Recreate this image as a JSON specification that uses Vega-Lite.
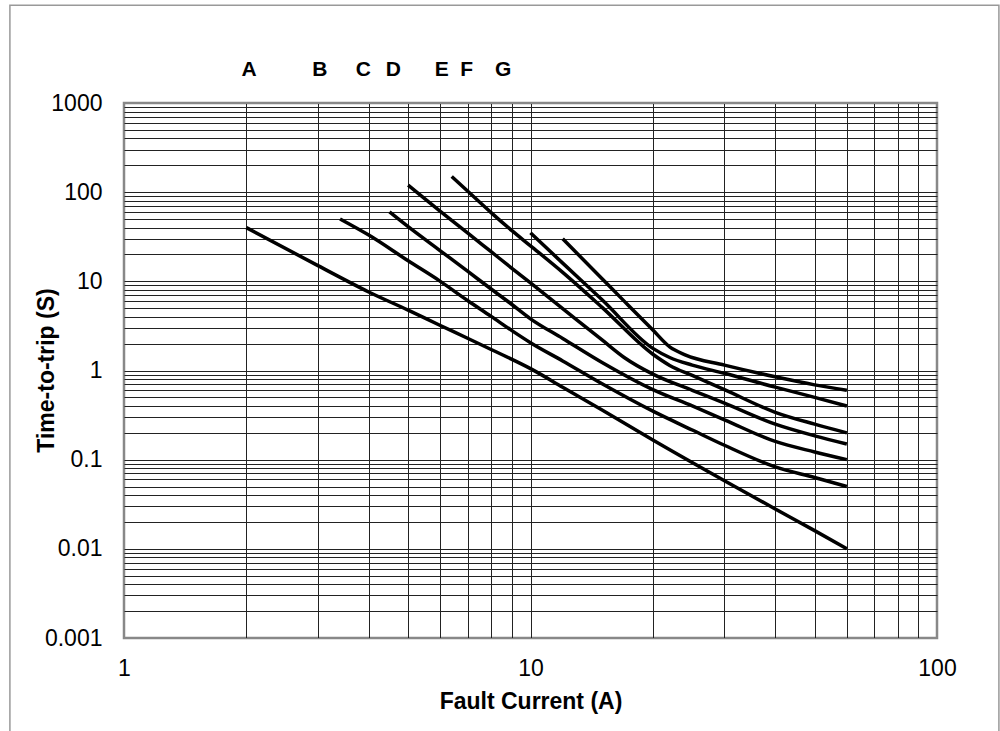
{
  "$schema": "https://vega.github.io/schema/vega-lite/v6.json",
  "width": 813,
  "height": 535,
  "autosize": {"type": "none"},
  "padding": {"left": 124, "top": 103, "right": 63, "bottom": 93},
  "background": "white",
  "config": {
    "view": {"stroke": "#888", "strokeWidth": 2.5},
    "font": "Liberation Sans"
  },
  "datasets": {
    "curves": [
      {"curve": "A", "current": 2, "time": 40},
      {"curve": "A", "current": 3, "time": 15},
      {"curve": "A", "current": 4, "time": 7.6},
      {"curve": "A", "current": 5, "time": 4.75},
      {"curve": "A", "current": 6, "time": 3.2},
      {"curve": "A", "current": 7, "time": 2.3},
      {"curve": "A", "current": 8, "time": 1.72},
      {"curve": "A", "current": 10, "time": 1.05},
      {"curve": "A", "current": 12, "time": 0.65},
      {"curve": "A", "current": 15, "time": 0.36},
      {"curve": "A", "current": 20, "time": 0.166},
      {"curve": "A", "current": 30, "time": 0.058},
      {"curve": "A", "current": 40, "time": 0.028},
      {"curve": "A", "current": 50, "time": 0.016},
      {"curve": "A", "current": 60, "time": 0.01},

      {"curve": "B", "current": 3.4, "time": 50},
      {"curve": "B", "current": 4, "time": 33},
      {"curve": "B", "current": 5, "time": 17},
      {"curve": "B", "current": 6, "time": 10},
      {"curve": "B", "current": 7, "time": 6.1},
      {"curve": "B", "current": 8, "time": 4.05},
      {"curve": "B", "current": 9, "time": 2.8},
      {"curve": "B", "current": 10, "time": 2.05},
      {"curve": "B", "current": 12, "time": 1.28},
      {"curve": "B", "current": 15, "time": 0.71},
      {"curve": "B", "current": 20, "time": 0.35},
      {"curve": "B", "current": 25, "time": 0.215},
      {"curve": "B", "current": 30, "time": 0.145},
      {"curve": "B", "current": 40, "time": 0.083},
      {"curve": "B", "current": 50, "time": 0.063},
      {"curve": "B", "current": 60, "time": 0.05},

      {"curve": "C", "current": 4.5, "time": 60},
      {"curve": "C", "current": 5, "time": 41},
      {"curve": "C", "current": 6, "time": 22},
      {"curve": "C", "current": 7, "time": 13},
      {"curve": "C", "current": 8, "time": 8.2},
      {"curve": "C", "current": 9, "time": 5.5},
      {"curve": "C", "current": 10, "time": 3.8},
      {"curve": "C", "current": 12, "time": 2.29},
      {"curve": "C", "current": 15, "time": 1.23},
      {"curve": "C", "current": 20, "time": 0.61},
      {"curve": "C", "current": 25, "time": 0.4},
      {"curve": "C", "current": 30, "time": 0.28},
      {"curve": "C", "current": 40, "time": 0.16},
      {"curve": "C", "current": 50, "time": 0.122},
      {"curve": "C", "current": 60, "time": 0.1},

      {"curve": "D", "current": 5, "time": 120},
      {"curve": "D", "current": 6, "time": 61},
      {"curve": "D", "current": 7, "time": 35},
      {"curve": "D", "current": 8, "time": 21.5},
      {"curve": "D", "current": 9, "time": 14},
      {"curve": "D", "current": 10, "time": 9.6},
      {"curve": "D", "current": 12, "time": 4.95},
      {"curve": "D", "current": 15, "time": 2.2},
      {"curve": "D", "current": 17, "time": 1.4},
      {"curve": "D", "current": 20, "time": 0.91},
      {"curve": "D", "current": 25, "time": 0.6},
      {"curve": "D", "current": 30, "time": 0.43},
      {"curve": "D", "current": 40, "time": 0.25},
      {"curve": "D", "current": 50, "time": 0.185},
      {"curve": "D", "current": 60, "time": 0.15},

      {"curve": "E", "current": 6.4, "time": 150},
      {"curve": "E", "current": 7, "time": 103},
      {"curve": "E", "current": 8, "time": 59},
      {"curve": "E", "current": 9, "time": 37},
      {"curve": "E", "current": 10, "time": 25},
      {"curve": "E", "current": 12, "time": 12.6},
      {"curve": "E", "current": 15, "time": 5.1},
      {"curve": "E", "current": 20, "time": 1.52},
      {"curve": "E", "current": 22, "time": 1.14},
      {"curve": "E", "current": 25, "time": 0.88},
      {"curve": "E", "current": 30, "time": 0.61},
      {"curve": "E", "current": 40, "time": 0.34},
      {"curve": "E", "current": 50, "time": 0.25},
      {"curve": "E", "current": 60, "time": 0.2},

      {"curve": "F", "current": 10, "time": 35},
      {"curve": "F", "current": 12, "time": 16},
      {"curve": "F", "current": 15, "time": 6.2},
      {"curve": "F", "current": 20, "time": 1.77},
      {"curve": "F", "current": 22, "time": 1.4},
      {"curve": "F", "current": 25, "time": 1.15},
      {"curve": "F", "current": 30, "time": 0.93},
      {"curve": "F", "current": 40, "time": 0.65},
      {"curve": "F", "current": 50, "time": 0.5},
      {"curve": "F", "current": 60, "time": 0.4},

      {"curve": "G", "current": 12, "time": 30},
      {"curve": "G", "current": 15, "time": 10.7},
      {"curve": "G", "current": 17, "time": 6.0},
      {"curve": "G", "current": 20, "time": 2.84},
      {"curve": "G", "current": 22, "time": 1.84},
      {"curve": "G", "current": 24, "time": 1.5},
      {"curve": "G", "current": 30, "time": 1.15},
      {"curve": "G", "current": 40, "time": 0.85},
      {"curve": "G", "current": 50, "time": 0.69},
      {"curve": "G", "current": 60, "time": 0.6}
    ],
    "letters": [
      {"label": "A", "current": 2.03},
      {"label": "B", "current": 3.03},
      {"label": "C", "current": 3.88},
      {"label": "D", "current": 4.6},
      {"label": "E", "current": 6.05},
      {"label": "F", "current": 6.97},
      {"label": "G", "current": 8.57}
    ]
  },
  "layer": [
    {
      "data": {"values": [{"frame": "chart"}]},
      "mark": {"type": "rect", "fill": "transparent", "stroke": "#999", "strokeWidth": 1.5, "clip": false},
      "encoding": {
        "x": {"datum": 0.524, "type": "quantitative", "scale": {"type": "log", "domain": [1, 100]}, "title": "Fault Current (A)"},
        "x2": {"datum": 142},
        "y": {"datum": 12480, "type": "quantitative", "scale": {"type": "log", "domain": [0.001, 1000]}, "title": "Time-to-trip (S)"},
        "y2": {"datum": 0.00007}
      }
    },
    {
      "data": {"name": "curves"},
      "mark": {"type": "line", "color": "#000", "strokeWidth": 3.5, "interpolate": "monotone", "strokeCap": "butt"},
      "encoding": {
        "x": {
          "field": "current", "type": "quantitative",
          "scale": {"type": "log", "domain": [1, 100]},
          "title": "Fault Current (A)",
          "axis": {
            "values": [1,2,3,4,5,6,7,8,9,10,20,30,40,50,60,70,80,90,100],
            "format": "~g",
            "labelExpr": "indexof([1,10,100], datum.value) >= 0 ? datum.label : ''",
            "grid": true,
            "gridColor": {"condition": {"test": "datum.value == 1 || datum.value == 100", "value": "#888"}, "value": "#222"},
            "gridWidth": 1,
            "ticks": false,
            "domain": false,
            "labelOverlap": false,
            "labelFlush": false,
            "labelFont": "Liberation Sans",
            "labelFontSize": 23,
            "labelColor": "#000",
            "labelPadding": 19,
            "titleFont": "Liberation Sans",
            "titleFontSize": 23,
            "titleFontWeight": "bold",
            "titleColor": "#000",
            "titlePadding": 10
          }
        },
        "y": {
          "field": "time", "type": "quantitative",
          "scale": {"type": "log", "domain": [0.001, 1000]},
          "title": "Time-to-trip (S)",
          "axis": {
            "values": [0.001,0.002,0.003,0.004,0.005,0.006,0.007,0.008,0.009,0.01,0.02,0.03,0.04,0.05,0.06,0.07,0.08,0.09,0.1,0.2,0.3,0.4,0.5,0.6,0.7,0.8,0.9,1,2,3,4,5,6,7,8,9,10,20,30,40,50,60,70,80,90,100,200,300,400,500,600,700,800,900,1000],
            "format": "~g",
            "labelExpr": "indexof([0.001,0.01,0.1,1,10,100,1000], datum.value) >= 0 ? datum.label : ''",
            "grid": true,
            "gridColor": {"condition": {"test": "datum.value == 0.001 || datum.value == 1000", "value": "#888"}, "value": "#222"},
            "gridWidth": 1,
            "ticks": false,
            "domain": false,
            "labelOverlap": false,
            "labelFlush": false,
            "labelFont": "Liberation Sans",
            "labelFontSize": 23,
            "labelColor": "#000",
            "labelPadding": 22,
            "titleFont": "Liberation Sans",
            "titleFontSize": 23,
            "titleFontWeight": "bold",
            "titleColor": "#000",
            "titleX": -78,
            "titleY": 267,
            "titleAngle": -90,
            "titleBaseline": "middle",
            "titleAlign": "center"
          }
        },
        "detail": {"field": "curve"}
      }
    },
    {
      "data": {"name": "letters"},
      "mark": {"type": "text", "font": "Liberation Sans", "fontWeight": "bold", "fontSize": 21, "color": "#000", "baseline": "middle", "align": "center", "clip": false},
      "encoding": {
        "x": {"field": "current", "type": "quantitative", "scale": {"type": "log", "domain": [1, 100]}, "title": "Fault Current (A)"},
        "y": {"datum": 2333, "type": "quantitative", "scale": {"type": "log", "domain": [0.001, 1000]}, "title": "Time-to-trip (S)"},
        "text": {"field": "label"}
      }
    }
  ]
}
